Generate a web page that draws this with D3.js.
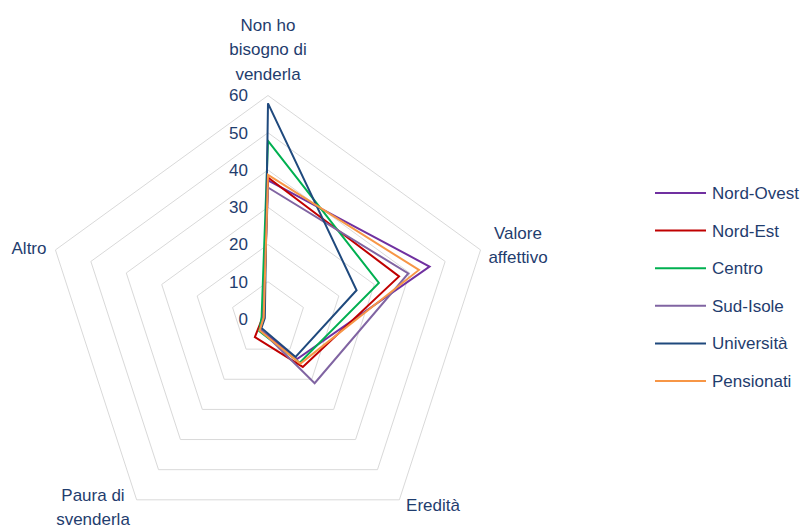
<!DOCTYPE html>
<html>
<head>
<meta charset="utf-8">
<script src="https://cdn.jsdelivr.net/npm/d3@7"></script>
<style>
  html, body { margin: 0; padding: 0; background: #fff; }
  svg { display: block; }
  text { font-family: "Liberation Sans", Arial, sans-serif; fill: #1F3D6E; }
</style>
</head>
<body>
<svg id="chart" width="805" height="526"></svg>
<script>
const categories = ["Non ho bisogno di venderla", "Valore affettivo", "Eredità", "Paura di svenderla", "Altro"];
const categoryLines = [["Non ho", "bisogno di", "venderla"], ["Valore", "affettivo"], ["Eredità"], ["Paura di", "svenderla"], ["Altro"]];
const seriesNames = ["Nord-Ovest", "Nord-Est", "Centro", "Sud-Isole", "Università", "Pensionati"];
const nordOvest  = [37.2, 45.6, 13.3, 3.5, 1.3];
const nordEst    = [38.0, 37.0, 15.9, 6.0, 1.5];
const centro     = [47.8, 31.3, 14.5, 4.0, 1.8];
const sudIsole   = [35.3, 39.6, 21.3, 3.5, 1.3];
const universita = [57.9, 25.0, 12.6, 3.0, 0.9];
const pensionati = [38.7, 42.6, 14.8, 3.8, 1.2];
const seriesValues = [nordOvest, nordEst, centro, sudIsole, universita, pensionati];
const colors = ["#7030A0", "#C00000", "#00B050", "#8064A2", "#1F497D", "#F79646"];
const tickValues = [0, 10, 20, 30, 40, 50, 60];

const svg = d3.select("#chart");
const cx = 268, cy = 319, R = 223.5;
const r = d3.scaleLinear().domain([0, 60]).range([0, R]);
const angle = d3.scaleLinear().domain([0, categories.length]).range([0, 2 * Math.PI]);

const g = svg.append("g").attr("transform", `translate(${cx},${cy})`);

// grid pentagons
const gridLine = d3.lineRadial().curve(d3.curveLinearClosed)
  .angle((d, i) => angle(i)).radius(d => r(d));
g.selectAll("path.grid").data(tickValues.filter(t => t > 0)).enter().append("path")
  .attr("class", "grid")
  .attr("d", t => gridLine(categories.map(() => t)))
  .attr("fill", "none").attr("stroke", "#D9D9D9").attr("stroke-width", 1);

// tick labels
g.selectAll("text.tick").data(tickValues).enter().append("text")
  .attr("class", "tick")
  .attr("x", -20).attr("y", t => -r(t))
  .attr("dy", "0.35em")
  .attr("text-anchor", "end")
  .attr("font-size", 17)
  .text(t => t);

// series
const line = d3.lineRadial().curve(d3.curveLinearClosed)
  .angle((d, i) => angle(i)).radius(d => r(d));
g.selectAll("path.series").data(seriesValues).enter().append("path")
  .attr("class", "series")
  .attr("d", d => line(d))
  .attr("fill", "none")
  .attr("stroke", (d, i) => colors[i])
  .attr("stroke-width", 2)
  .attr("stroke-linejoin", "miter");

// category labels
const labelPos = [
  {x: 268, y: 25},
  {x: 518, y: 233},
  {x: 433, y: 505},
  {x: 93, y: 495},
  {x: 29, y: 248}
];
categoryLines.forEach((lines, i) => {
  const t = svg.append("text")
    .attr("text-anchor", "middle")
    .attr("font-size", 17);
  lines.forEach((ln, j) => {
    t.append("tspan")
      .attr("x", labelPos[i].x)
      .attr("y", labelPos[i].y + j * 24.5)
      .attr("dy", "0.35em")
      .text(ln);
  });
});

// legend
const legend = svg.append("g");
const ly = d3.scalePoint().domain(seriesNames).range([193, 381]);
seriesNames.forEach((name, i) => {
  legend.append("line")
    .attr("x1", 655).attr("x2", 706)
    .attr("y1", ly(name)).attr("y2", ly(name))
    .attr("stroke", colors[i]).attr("stroke-width", 2);
  legend.append("text")
    .attr("x", 712).attr("y", ly(name))
    .attr("dy", "0.35em")
    .attr("font-size", 17)
    .text(name);
});
</script>
</body>
</html>
